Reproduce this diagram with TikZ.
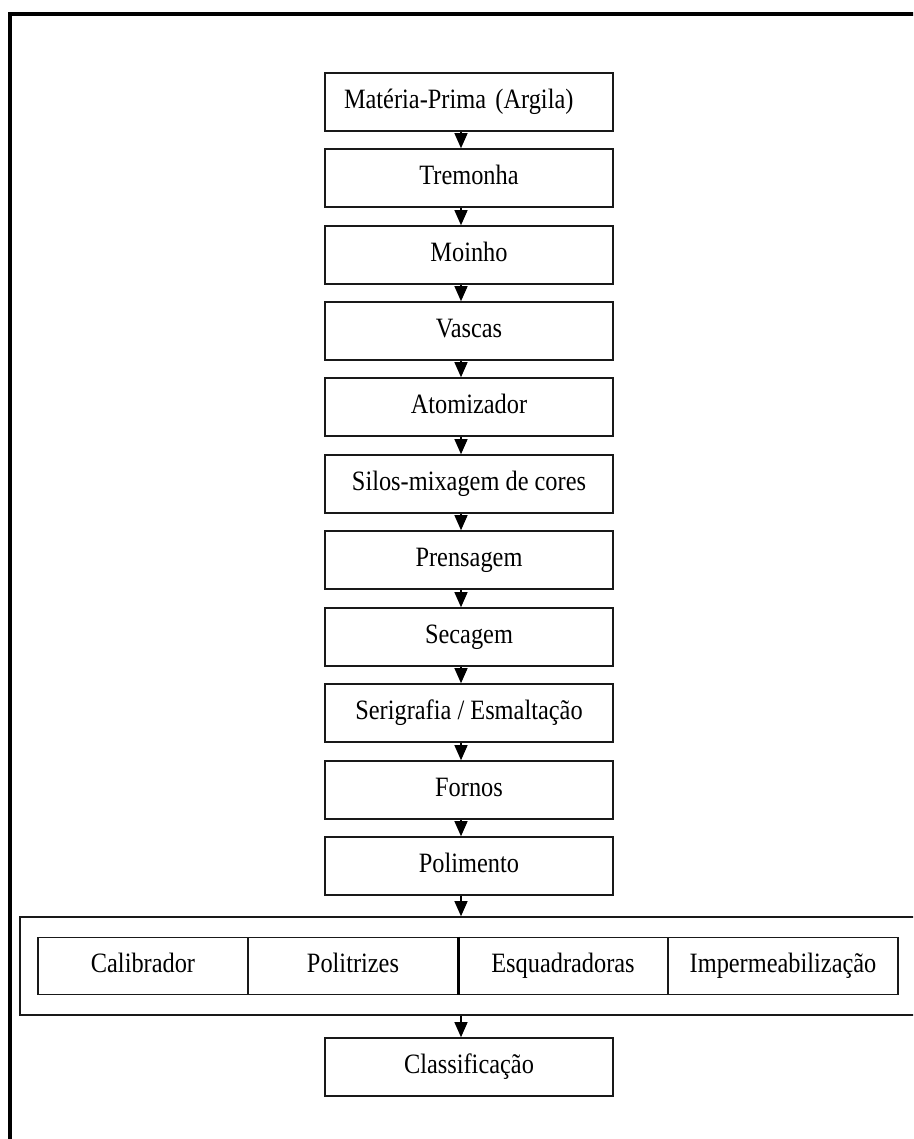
\documentclass[tikz,border=0pt]{standalone}
\usepackage{fontspec}
\setmainfont{Liberation Serif}[FakeStretch=0.87]
\usetikzlibrary{arrows.meta}
\begin{document}
\begin{tikzpicture}[x=1pt,y=-1pt,
  label text/.style={font=\fontsize{28}{32}\selectfont, text height=19pt, text depth=6pt},
  stage/.style={draw=black!90, line width=1.6pt, minimum width=288pt, minimum height=58pt,
    inner sep=0pt, label text},
  cell/.style={draw=black!90, line width=1.6pt, minimum height=57pt, inner sep=0pt, label text},
  flow/.style={draw=black, line width=1.2pt, -{Triangle[width=13pt,length=15pt]}}]
\useasboundingbox (0,0) rectangle (913,1139);
\clip (0,0) rectangle (913,1139);
% outer frame, open to the right and bottom
\draw[line width=4pt] (930,14) -- (10,14) -- (10,1160);

% main chain of stages
\node[stage, text width=250pt, align=left] (s1) at (469,102) {Matéria-Prima (Argila)};
\node[stage] (s2)  at (469,178) {Tremonha};
\node[stage] (s3)  at (469,255) {Moinho};
\node[stage] (s4)  at (469,331) {Vascas};
\node[stage] (s5)  at (469,407) {Atomizador};
\node[stage] (s6)  at (469,484) {Silos-mixagem de cores};
\node[stage] (s7)  at (469,560) {Prensagem};
\node[stage] (s8)  at (469,637) {Secagem};
\node[stage] (s9)  at (469,713) {Serigrafia / Esmaltação};
\node[stage] (s10) at (469,790) {Fornos};
\node[stage] (s11) at (469,866) {Polimento};

% finishing group
\node[draw=black!90, line width=1.6pt, minimum width=900pt, minimum height=98pt, inner sep=0pt]
  (grp) at (470,966) {};
\node[cell, minimum width=210pt] (c1) at (143,966) {Calibrador};
\node[cell, minimum width=210pt] (c2) at (353,966) {Politrizes};
\node[cell, minimum width=210pt] (c3) at (563,966) {Esquadradoras};
\node[cell, minimum width=230pt] (c4) at (783,966) {Impermeabilização};
\draw[line width=3pt] (c2.north east) -- (c2.south east);

\node[stage] (s12) at (469,1067) {Classificação};

% arrows along the flow axis
\coordinate (axis) at (461,0);
\foreach \a/\b in {s1/s2,s2/s3,s3/s4,s4/s5,s5/s6,s6/s7,s7/s8,s8/s9,s9/s10,s10/s11}
  \draw[flow] (\a.south -| axis) -- (\b.north -| axis);
\draw[flow] (s11.south -| axis) -- (grp.north -| axis);
\draw[flow] (grp.south -| axis) -- (s12.north -| axis);
\end{tikzpicture}
\end{document}
